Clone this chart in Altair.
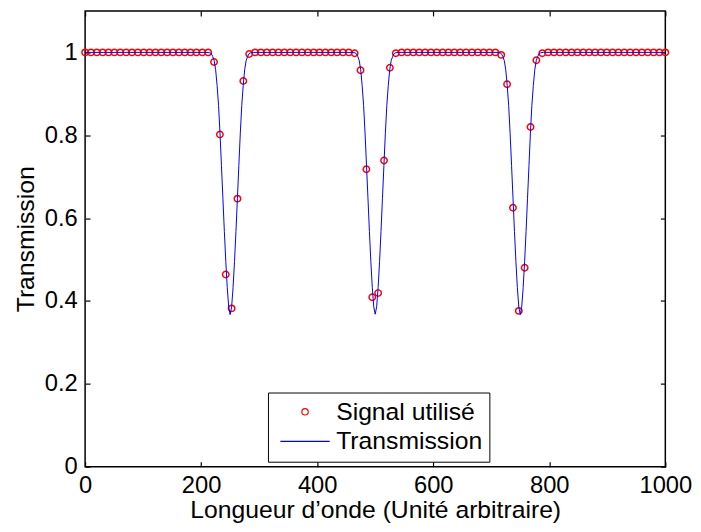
import altair as alt
import pandas as pd

FONT = "Liberation Sans"
series_names = ["Signal utilisé", "Transmission"]

signal_x = [0.0, 10.1, 20.2, 30.3, 40.4, 50.5, 60.6, 70.7, 80.8, 90.9,
            101.0, 111.1, 121.2, 131.3, 141.4, 151.5, 161.6, 171.7, 181.8, 191.9,
            202.0, 212.1, 222.2, 232.3, 242.4, 252.5, 262.6, 272.7, 282.8, 292.9,
            303.0, 313.1, 323.2, 333.3, 343.4, 353.5, 363.6, 373.7, 383.8, 393.9,
            404.0, 414.1, 424.2, 434.3, 444.4, 454.5, 464.6, 474.7, 484.8, 494.9,
            505.1, 515.2, 525.3, 535.4, 545.5, 555.6, 565.7, 575.8, 585.9, 596.0,
            606.1, 616.2, 626.3, 636.4, 646.5, 656.6, 666.7, 676.8, 686.9, 697.0,
            707.1, 717.2, 727.3, 737.4, 747.5, 757.6, 767.7, 777.8, 787.9, 798.0,
            808.1, 818.2, 828.3, 838.4, 848.5, 858.6, 868.7, 878.8, 888.9, 899.0,
            909.1, 919.2, 929.3, 939.4, 949.5, 959.6, 969.7, 979.8, 989.9, 1000.0]

signal_y = [1.0, 1.0, 1.0, 1.0, 1.0, 1.0, 1.0, 1.0, 1.0, 1.0,
            1.0, 1.0, 1.0, 1.0, 1.0, 1.0, 1.0, 1.0, 1.0, 1.0,
            1.0, 1.0, 0.977, 0.802, 0.464, 0.382, 0.647, 0.931, 0.996, 1.0,
            1.0, 1.0, 1.0, 1.0, 1.0, 1.0, 1.0, 1.0, 1.0, 1.0,
            1.0, 1.0, 1.0, 1.0, 1.0, 1.0, 0.998, 0.957, 0.718, 0.409,
            0.419, 0.739, 0.963, 0.998, 1.0, 1.0, 1.0, 1.0, 1.0, 1.0,
            1.0, 1.0, 1.0, 1.0, 1.0, 1.0, 1.0, 1.0, 1.0, 1.0,
            1.0, 0.994, 0.923, 0.625, 0.376, 0.480, 0.820, 0.981, 0.998, 1.0,
            1.0, 1.0, 1.0, 1.0, 1.0, 1.0, 1.0, 1.0, 1.0, 1.0,
            1.0, 1.0, 1.0, 1.0, 1.0, 1.0, 1.0, 1.0, 1.0, 1.0]

dip1_x = [210, 215, 217.5, 220, 222.5, 225, 227.5, 230, 232.5, 235, 237.5,
          240, 242.5, 245, 247.5, 250, 252.5, 255, 257.5, 260, 262.5, 265,
          267.5, 270, 272.5, 275, 277.5, 280, 282.5, 285, 290]
dip1_y = [1.0, 0.999, 0.997, 0.99, 0.98, 0.958, 0.92, 0.872, 0.805, 0.727, 0.648,
          0.568, 0.495, 0.432, 0.385, 0.367, 0.385, 0.432, 0.495, 0.568, 0.648, 0.727,
          0.805, 0.872, 0.92, 0.958, 0.98, 0.99, 0.997, 0.999, 1.0]

dip2_x = [460, 465, 467.5, 470, 472.5, 475, 477.5, 480, 482.5, 485, 487.5,
          490, 492.5, 495, 497.5, 500, 502.5, 505, 507.5, 510, 512.5, 515,
          517.5, 520, 522.5, 525, 527.5, 530, 532.5, 535, 540]
dip2_y = [1.0, 0.999, 0.997, 0.99, 0.98, 0.958, 0.92, 0.872, 0.805, 0.727, 0.648,
          0.568, 0.495, 0.432, 0.386, 0.368, 0.386, 0.432, 0.495, 0.568, 0.648, 0.727,
          0.805, 0.872, 0.92, 0.958, 0.98, 0.99, 0.997, 0.999, 1.0]

dip3_x = [710, 715, 717.5, 720, 722.5, 725, 727.5, 730, 732.5, 735, 737.5,
          740, 742.5, 745, 747.5, 750, 752.5, 755, 757.5, 760, 762.5, 765,
          767.5, 770, 772.5, 775, 777.5, 780, 782.5, 785, 790]
dip3_y = [1.0, 0.999, 0.997, 0.99, 0.98, 0.958, 0.92, 0.872, 0.805, 0.727, 0.648,
          0.568, 0.495, 0.432, 0.385, 0.367, 0.385, 0.432, 0.495, 0.568, 0.648, 0.727,
          0.805, 0.872, 0.92, 0.958, 0.98, 0.99, 0.997, 0.999, 1.0]

x_ticks = [0, 200, 400, 600, 800, 1000]
y_ticks = [0, 0.2, 0.4, 0.6, 0.8, 1.0]

line_x = [0.0] + dip1_x + dip2_x + dip3_x + [1000.0]
line_y = [1.0] + dip1_y + dip2_y + dip3_y + [1.0]

W, H = 587, 461

sig_df = pd.DataFrame({"x": signal_x, "y": signal_y, "series": series_names[0]})
line_df = pd.DataFrame({"x": line_x, "y": line_y, "series": series_names[1]})

x_scale = alt.Scale(domain=[0, 1000], nice=False, zero=False)
y_scale = alt.Scale(domain=[0, 1.1], nice=False, zero=False)

txt = dict(labelFont=FONT, labelFontSize=24, labelColor="black", titleFont=FONT,
           titleFontSize=25, titleFontWeight="normal", titleColor="black")

x_axis_main = alt.Axis(orient="bottom", values=x_ticks, format="d", grid=False,
                       ticks=False, domain=False, labelPadding=7,
                       title="Longueur d’onde (Unité arbitraire)", titlePadding=0,
                       labelFlush=False, labelOverlap=False, **txt)
y_axis_main = alt.Axis(orient="left", values=y_ticks, format="~g", grid=False,
                       ticks=False, domain=False, labelPadding=8,
                       title="Transmission", titlePadding=6,
                       labelFlush=False, labelOverlap=False, **txt)

tick_only = dict(grid=False, labels=False, domain=False, title=None, ticks=True,
                 tickSize=5, tickColor="black", tickWidth=1.2, minExtent=0, maxExtent=0)

# inward ticks along the bottom edge and the right edge
x_axis_in_bottom = alt.Axis(orient="top", offset=-H, values=x_ticks, **tick_only)
y_axis_in_right = alt.Axis(orient="left", offset=-W, values=y_ticks, **tick_only)
# inward ticks along the top edge and the left edge
x_axis_in_top = alt.Axis(orient="bottom", offset=-H, values=x_ticks, **tick_only)
y_axis_in_left = alt.Axis(orient="right", offset=-W, values=y_ticks, **tick_only)

legend = alt.Legend(
    title=None, orient="none", legendX=185, legendY=386, direction="vertical",
    fillColor="white", strokeColor="black", padding=7,
    labelFont=FONT, labelFontSize=25, labelColor="black",
    symbolSize=42, symbolStrokeWidth=1.2, symbolFillColor="transparent",
    symbolOffset=18, labelOffset=19, rowPadding=4,
)

color = alt.Color("series:N", scale=alt.Scale(domain=series_names, range=["#ff0000", "#0000ff"]),
                  legend=legend)
shape = alt.Shape("series:N", scale=alt.Scale(domain=series_names,
                                              range=["circle", "M-7.7,0L7.7,0"]),
                  legend=legend)

points = alt.Chart(sig_df).mark_point(filled=False, size=42,
                                      strokeWidth=1.5, opacity=1).encode(
    x=alt.X("x:Q", scale=x_scale, axis=x_axis_main),
    y=alt.Y("y:Q", scale=y_scale, axis=y_axis_main),
    color=color,
    shape=shape,
)

line = alt.Chart(line_df).mark_line(strokeWidth=1).encode(
    x=alt.X("x:Q", scale=x_scale, axis=x_axis_in_bottom),
    y=alt.Y("y:Q", scale=y_scale, axis=y_axis_in_right),
    color=color,
    order="x:Q",
)

ghost = alt.Chart(line_df).mark_line(strokeOpacity=0).encode(
    x=alt.X("x:Q", scale=x_scale, axis=x_axis_in_top),
    y=alt.Y("y:Q", scale=y_scale, axis=y_axis_in_left),
)

chart = alt.layer(points, line, ghost).resolve_axis(x="independent", y="independent").properties(
    width=W, height=H,
    autosize=alt.AutoSizeParams(type="none"),
    padding={"left": 78, "top": 0, "right": 28, "bottom": 55},
    background="white",
).configure_view(stroke="black", strokeWidth=1.5)

chart.save("out.html", embed_options={"renderer": "svg", "actions": False})
